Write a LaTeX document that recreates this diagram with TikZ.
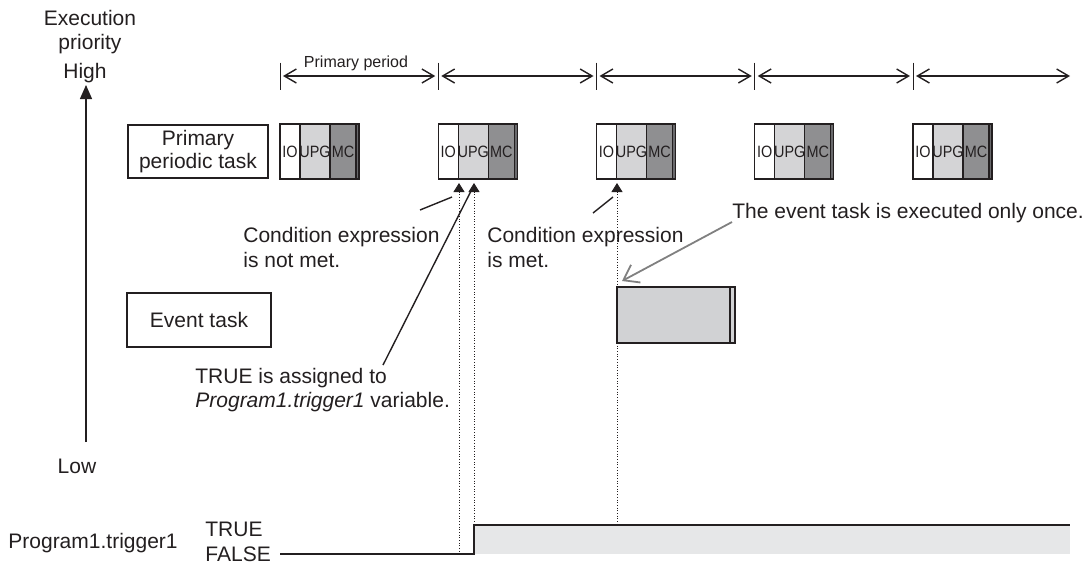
\documentclass[tikz,border=0pt]{standalone}
\usepackage{fontspec}
\setmainfont{Liberation Sans}
\usetikzlibrary{arrows.meta,positioning}

\definecolor{ink}{RGB}{35,31,32}
\definecolor{upggray}{RGB}{212,212,214}
\definecolor{mcgray}{RGB}{143,143,145}
\definecolor{stripgray}{RGB}{105,105,108}
\definecolor{evgray}{RGB}{209,210,212}
\definecolor{siggray}{RGB}{230,231,232}

% cell labels keep the cell widths fixed
\newcommand{\celltext}[1]{\makebox[0pt]{\scalebox{0.88}[1]{#1}}}

\tikzset{
  cell/.style={draw=ink, line width=0.6pt, inner sep=0pt, outer sep=0pt,
    minimum height=27.5pt, font=\fontsize{8.2}{9}\selectfont},
  taskbox/.style={draw=ink, line width=0.6pt, align=center, inner sep=0pt},
  note/.style={inner sep=0pt, anchor=west, align=left},
  period/.style={{Straight Barb[length=6pt,width=7pt]}-{Straight Barb[length=6pt,width=7pt]},
    line width=0.7pt},
  leader/.style={line width=0.7pt},
  marker/.style={dash pattern=on 0.45pt off 0.9pt, line width=0.45pt,
    {Triangle[width=5.5pt,length=4.5pt]}-}
}

\begin{document}
\begin{tikzpicture}[x=0.5pt, y=-0.5pt, color=ink,
    font=\fontsize{10.5}{12.5}\selectfont]
	\useasboundingbox (0,0) rectangle (1090,563);
	
	% Priority axis
	\node[align=center, font=\fontsize{10.5}{12}\selectfont] (exec) at (90,32) {Execution\\priority};
	\node (high) at (85,73) {High};
	\node (low) at (77,466) {Low};
	\coordinate (axtop) at (86,85);
	\coordinate (axbot) at (86,442);
	\draw[line width=0.65pt, -{Triangle[width=6pt,length=7pt]}] (axbot) -- (axtop);
	
	% Task names
	\node[taskbox, minimum width=70pt, minimum height=26.5pt,
	  font=\fontsize{10.5}{11.5}\selectfont] (ppt) at (198,151.5) {Primary\\periodic task};
	\node[taskbox, minimum width=72pt, minimum height=27pt] (evt) at (199,320) {Event task};
	
	% Primary periods
	\foreach \i in {0,...,4}
		\coordinate (p\i) at ({280+158.25*\i},76);
	\coordinate (p5) at (1073,76);
	\foreach \i in {0,...,4}
		\draw[line width=0.5pt] ([yshift=6.75pt]p\i) -- ([yshift=-6.75pt]p\i);
	\foreach \i/\j in {0/1,1/2,2/3,3/4,4/5}
		\draw[period] ([xshift=1.5pt]p\i) -- ([xshift=-1.5pt]p\j);
	\node[font=\fontsize{8}{9}\selectfont] (pplab) at (356,63) {Primary period};
	
	% Signal of the trigger variable
	\coordinate (s0) at (280,554);
	\coordinate (s1) at (474,554);
	\coordinate (s2) at (474,525);
	\coordinate (s3) at (1070,525);
	\fill[siggray] (s2) rectangle (s3 |- s1);
	\draw[line width=1pt] (s0) -- (s1) -- (s2) -- (s3);
	\node[note] (var) at (8,543) {Program1.trigger1};
	\node[note] (true) at (205,529) {TRUE};
	\node[note] (false) at (205,554) {FALSE};
	
	% Dotted markers with triangles
	\coordinate (tr1) at (459,183);
	\coordinate (tr2) at (474,183);
	\coordinate (tr3) at (617,183);
	\draw[marker] (tr1) -- (tr1 |- s1);
	\draw[marker] (tr2) -- (tr2 |- s2);
	\draw[marker] (tr3) -- (tr3 |- s2);
	
	% Primary periodic task executions
	\foreach \i in {0,...,4} {
		\node[cell, minimum width=10pt, anchor=west] (io\i) at ({280+158.25*\i},151.5) {\celltext{IO}};
		\node[cell, fill=upggray, minimum width=15pt, right=0pt of io\i] (upg\i) {\celltext{UPG}};
		\node[cell, fill=mcgray, minimum width=13pt, right=0pt of upg\i] (mc\i) {\celltext{MC}};
		\node[cell, fill=stripgray, minimum width=1.5pt, right=0pt of mc\i] (st\i) {};
	}
	
	% Event task execution
	\node[cell, fill=evgray, minimum width=56.5pt, minimum height=28pt,
	  anchor=north west] (evrun) at (617,287) {};
	\node[cell, fill=evgray, minimum width=2.5pt, minimum height=28pt,
	  right=0pt of evrun] (evst) {};
	
	% Notes
	\node[note] (notmet) at (243,247.5) {Condition expression\\is not met.};
	\node[note] (met) at (487,247.5) {Condition expression\\is met.};
	\node[note, font=\fontsize{10.5}{12}\selectfont] (assign) at (195,390.5)
	  {TRUE is assigned to\\\textit{Program1.trigger1} variable.};
	\node[note] (once) at (732,213) {The event task is executed only once.};
	
	\coordinate (nmA) at (420,210);
	\coordinate (nmB) at (452,197);
	\coordinate (asA) at (383,365);
	\coordinate (asB) at (471,191);
	\coordinate (mtA) at (593,213);
	\coordinate (mtB) at (613,197);
	\coordinate (onA) at (732,222);
	\coordinate (onB) at (622,281);
	\draw[leader] (nmA) -- (nmB);
	\draw[leader] (asA) -- (asB);
	\draw[leader] (mtA) -- (mtB);
	\draw[line width=0.9pt, gray, -{Straight Barb[length=7pt,width=10pt]}] (onA) -- (onB);
	
\end{tikzpicture}
\end{document}
